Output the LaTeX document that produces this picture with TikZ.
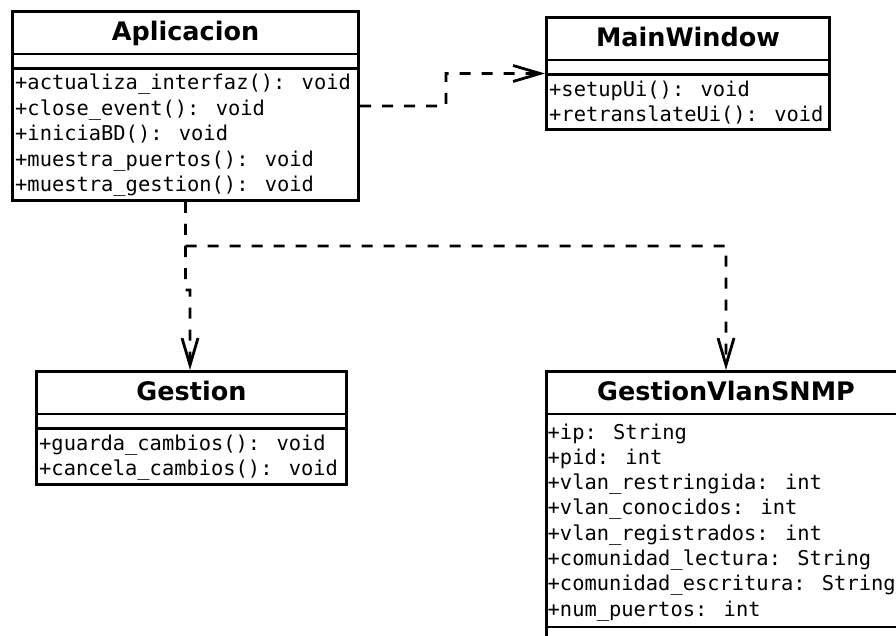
\documentclass[tikz,border=0pt]{standalone}
\usepackage{fontspec}
\setmainfont{DejaVu Sans}
\newfontfamily\monof{DejaVu Sans Mono}
\usetikzlibrary{arrows.meta}
\begin{document}
\begin{tikzpicture}[x=1pt,y=1pt,
  cls/.style={draw, line width=2.8pt, anchor=north west, inner sep=0pt, fill=white},
  ttl/.style={font=\fontsize{25.5}{29}\selectfont\bfseries, inner sep=0pt, anchor=base},
  mem/.style={font=\monof\fontsize{20.4}{25}\selectfont, inner sep=0pt, anchor=base west},
  sepline/.style={line width=2.8pt},
  dep/.style={line width=2.8pt, dash pattern=on 11pt off 11pt, -{Straight Barb[length=27pt,width=16pt]}}]
\useasboundingbox (0,0) rectangle (896,-636);
\clip (0,0) rectangle (896,-636);
\fill[white] (0,0) rectangle (896,-636);

% Aplicacion
\node[cls, minimum width=346.2pt, minimum height=189.2pt] (apl) at (11,-10) {};
\node[ttl] (aplt) at (185.5,-40.5) {Aplicacion};
\draw[sepline] ([yshift=-44pt]apl.north west) -- ([yshift=-44pt]apl.north east);
\draw[sepline] ([yshift=-58.7pt]apl.north west) -- ([yshift=-58.7pt]apl.north east);
\foreach \t [count=\i] in {{+actualiza\_interfaz(): void},{+close\_event(): void},{+iniciaBD(): void},{+muestra\_puertos(): void},{+muestra\_gestion(): void}}
  \node[mem] (aplm\i) at (15,{-90-25.5*(\i-1)}) {\t};

% MainWindow
\node[cls, minimum width=283.2pt, minimum height=112.2pt] (mw) at (545,-16) {};
\node[ttl] (mwt) at (688,-46.5) {MainWindow};
\draw[sepline] ([yshift=-44pt]mw.north west) -- ([yshift=-44pt]mw.north east);
\draw[sepline] ([yshift=-58.7pt]mw.north west) -- ([yshift=-58.7pt]mw.north east);
\foreach \t [count=\i] in {{+setupUi(): void},{+retranslateUi(): void}}
  \node[mem] (mwm\i) at (549,{-96.5-25.5*(\i-1)}) {\t};

% Gestion
\node[cls, minimum width=310.2pt, minimum height=113.2pt] (g) at (35,-370) {};
\node[ttl] (gt) at (191.5,-400.5) {Gestion};
\draw[sepline] ([yshift=-44pt]g.north west) -- ([yshift=-44pt]g.north east);
\draw[sepline] ([yshift=-58.7pt]g.north west) -- ([yshift=-58.7pt]g.north east);
\foreach \t [count=\i] in {{+guarda\_cambios(): void},{+cancela\_cambios(): void}}
  \node[mem] (gm\i) at (39,{-450-25.5*(\i-1)}) {\t};

% GestionVlanSNMP
\node[cls, minimum width=359.2pt, minimum height=297.2pt] (gv) at (545,-370) {};
\node[ttl] (gvt) at (726,-400.5) {GestionVlanSNMP};
\draw[sepline] ([yshift=-44pt]gv.north west) -- ([yshift=-44pt]gv.north east);
\draw[sepline] ([yshift=-257pt]gv.north west) -- ([yshift=-257pt]gv.north east);
\foreach \t [count=\i] in {{+ip: String},{+pid: int},{+vlan\_restringida: int},{+vlan\_conocidos: int},{+vlan\_registrados: int},{+comunidad\_lectura: String},{+comunidad\_escritura: String},{+num\_puertos: int}}
  \node[mem] (gva\i) at (547.5,{-439-25.3*(\i-1)}) {\t};

% dependencies
\coordinate (k1) at (446,-106);
\draw[dep] (apl.east) -- (k1) |- (mw.west);
\coordinate (j1) at (185.5,-290);
\coordinate (j2) at (190,-290);
\draw[dep] (apl.south) -- (j1) -- (j2) -- (j2 |- g.north);
\coordinate (h1) at (185.5,-246);
\draw[dep] (apl.south) -- (h1) -| (gv.north);
\end{tikzpicture}
\end{document}
